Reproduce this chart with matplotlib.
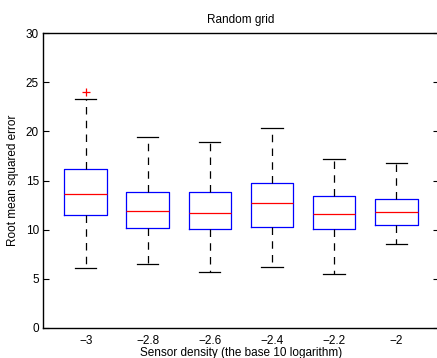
import numpy as np
import matplotlib.pyplot as plt

plt.rcParams['font.family'] = ['Liberation Sans', 'DejaVu Sans']

# summary statistics per sensor density
densities = ['\u22123', '\u22122.8', '\u22122.6', '\u22122.4', '\u22122.2', '\u22122']
whisk_lo = [6.07, 6.47, 5.66, 6.24, 5.46, 8.57]
q1 = [11.52, 10.17, 10.10, 10.27, 10.03, 10.50]
medians = [13.66, 11.93, 11.73, 12.71, 11.59, 11.76]
q3 = [16.20, 13.87, 13.87, 14.75, 13.46, 13.15]
whisk_hi = [23.26, 19.39, 18.95, 20.30, 17.22, 16.78]
outliers = [[24.0], [], [], [], [], []]

stats = []
for i in range(len(densities)):
    stats.append(dict(med=medians[i], q1=q1[i], q3=q3[i],
                      whislo=whisk_lo[i], whishi=whisk_hi[i],
                      fliers=outliers[i], label=densities[i]))

fig = plt.figure(figsize=(4.37, 3.58), dpi=100)
ax = fig.add_axes([0.0984, 0.0838, 0.906, 0.824])

ax.bxp(stats, positions=np.arange(1, 7), widths=0.69,
       boxprops=dict(color='#0000ff', linewidth=0.9),
       medianprops=dict(color='#ff0000', linewidth=0.9),
       whiskerprops=dict(color='black', linewidth=0.9, linestyle=(0, (6, 5))),
       capprops=dict(color='black', linewidth=0.9),
       capwidths=0.34,
       flierprops=dict(marker='+', markeredgecolor='#ff0000', markersize=6,
                       markeredgewidth=0.9, linestyle='none'))

ax.set_xlim(0.31, 6.69)
ax.set_ylim(0, 30)
ax.set_yticks([0, 5, 10, 15, 20, 25, 30])
ax.set_xticks(np.arange(1, 7))
ax.set_xticklabels(densities)
ax.tick_params(axis='y', direction='in', length=4, width=0.8, right=True,
               labelsize=8.5, pad=3)
ax.tick_params(axis='x', length=0, labelsize=8.5, pad=5)
for s in ax.spines.values():
    s.set_linewidth(1.0)

ax.set_title('Random grid', fontsize=8.5, pad=7)
ax.set_xlabel('Sensor density (the base 10 logarithm)', fontsize=8.5, labelpad=0)
ax.set_ylabel('Root mean squared error', fontsize=8.5, labelpad=5)

fig.savefig('out.png', dpi=100)
